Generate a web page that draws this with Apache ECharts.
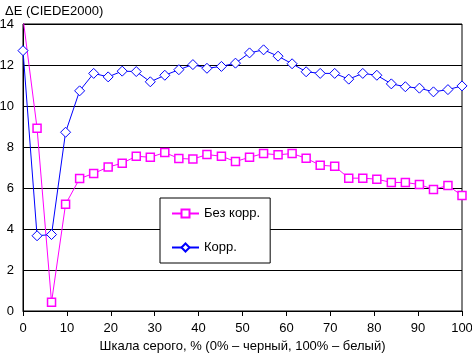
<!DOCTYPE html>
<html>
<head>
<meta charset="utf-8">
<script src="https://cdn.jsdelivr.net/npm/echarts@6/dist/echarts.min.js"></script>
<style>
    html, body { margin: 0; padding: 0; background: #fff; }
    #main { width: 472px; height: 353px; }
</style>
</head>
<body>
<div id="main"></div>
<script>
// шкала серого, % (32 точки)
var grayLevels = [0, 3.2, 6.5, 9.7, 12.9, 16.1, 19.4, 22.6, 25.8, 29.0, 32.3, 35.5, 38.7, 41.9, 45.2, 48.4,
    51.6, 54.8, 58.1, 61.3, 64.5, 67.7, 71.0, 74.2, 77.4, 80.6, 83.9, 87.1, 90.3, 93.5, 96.8, 100]

// ΔE без коррекции
var noCorr = [14.3, 8.92, 0.43, 5.21, 6.46, 6.71, 7.02, 7.21, 7.55, 7.50, 7.73, 7.44, 7.41, 7.63, 7.55, 7.29,
    7.50, 7.68, 7.62, 7.68, 7.45, 7.11, 7.06, 6.48, 6.48, 6.43, 6.27, 6.27, 6.17, 5.93, 6.12, 5.63]

// ΔE с коррекцией
var withCorr = [12.7, 3.67, 3.73, 8.72, 10.74, 11.59, 11.42, 11.70, 11.68, 11.18, 11.50, 11.77, 12.02, 11.84, 11.93, 12.09,
    12.59, 12.74, 12.43, 12.06, 11.67, 11.59, 11.59, 11.31, 11.59, 11.50, 11.08, 10.94, 10.87, 10.69, 10.80, 10.98]

var seriesNames = ['Без корр.', 'Корр.']

function pairs(xs, ys) {
    return xs.map(function (x, i) { return [x, ys[i]] })
}

var font = 'Liberation Sans, Arial, sans-serif'
var myChart = echarts.init(document.getElementById('main'))

var option = {
    animation: false,
    backgroundColor: '#fff',
    textStyle: { fontFamily: font, color: '#000' },
    title: {
        text: 'ΔE (CIEDE2000)',
        left: 0,
        top: 0,
        textStyle: { fontSize: 13, fontWeight: 'normal', color: '#000', fontFamily: font }
    },
    grid: {
        left: 23,
        right: 10,
        top: 24,
        bottom: 42,
        outerBoundsMode: 'none', // не сжимать сетку под подписи
        containLabel: false,
        show: true,
        borderColor: '#000',
        borderWidth: 1
    },
    legend: {
        orient: 'vertical',
        left: 160,
        top: 198,
        data: seriesNames,
        backgroundColor: '#fff',
        borderColor: '#000',
        borderWidth: 1,
        padding: [9, 10, 9, 11],
        itemGap: 21,
        itemWidth: 27,
        itemHeight: 10,
        textStyle: { fontSize: 13, color: '#000', fontFamily: font }
    },
    xAxis: {
        type: 'value',
        min: 0,
        max: 100,
        interval: 10,
        name: 'Шкала серого, % (0% – черный, 100% – белый)',
        nameLocation: 'middle',
        nameGap: 28,
        nameTextStyle: { fontSize: 13, color: '#000', fontFamily: font },
        axisLine: { show: true, lineStyle: { color: '#000', width: 1 } },
        axisTick: { show: true, length: 5, lineStyle: { color: '#000' } },
        axisLabel: { fontSize: 13, color: '#000', margin: 11, fontFamily: font },
        splitLine: { show: false }
    },
    yAxis: {
        type: 'value',
        min: 0,
        max: 14,
        interval: 2,
        axisLine: { show: true, lineStyle: { color: '#000', width: 1 } },
        axisTick: { show: false },
        axisLabel: { fontSize: 13, color: '#000', margin: 9, fontFamily: font },
        splitLine: { show: true, lineStyle: { color: '#000', width: 1, type: 'solid' } }
    },
    series: [
        {
            name: seriesNames[0],
            type: 'line',
            data: pairs(grayLevels, noCorr),
            symbol: 'rect',
            symbolSize: 8,
            showAllSymbol: true,
            clip: true,
            lineStyle: { color: '#ff00ff', width: 1 },
            itemStyle: { color: '#fff', borderColor: '#ff00ff', borderWidth: 1.5 }
        },
        {
            name: seriesNames[1],
            type: 'line',
            data: pairs(grayLevels, withCorr),
            symbol: 'diamond',
            symbolSize: 10,
            showAllSymbol: true,
            clip: true,
            lineStyle: { color: '#0000ff', width: 1 },
            itemStyle: { color: '#fff', borderColor: '#0000ff', borderWidth: 1 }
        }
    ]
}
myChart.setOption(option)
</script>
</body>
</html>
